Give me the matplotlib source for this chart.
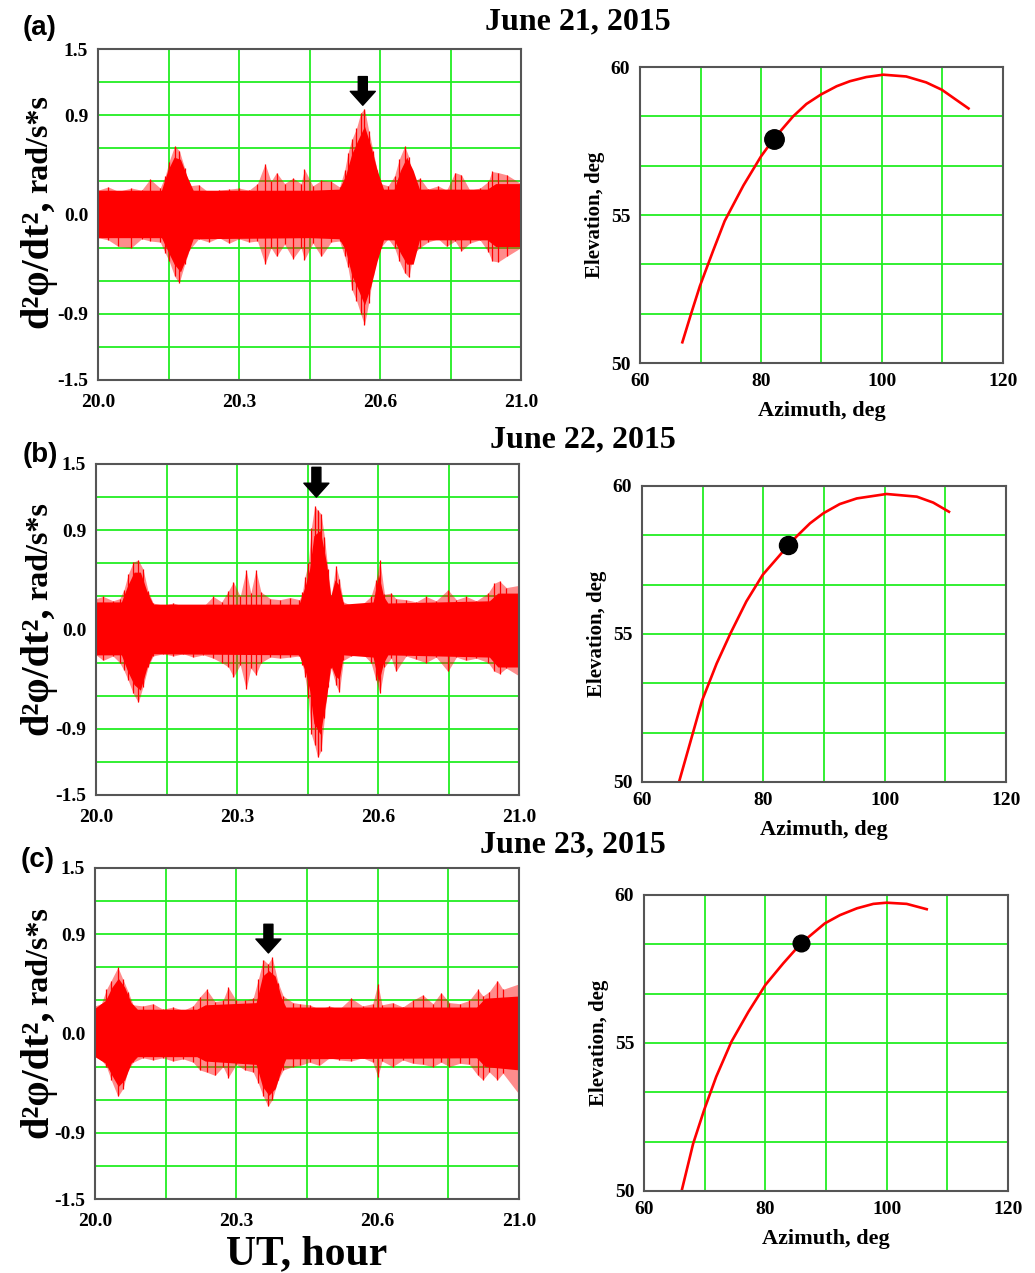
import numpy as np
import matplotlib
matplotlib.use("Agg")
import matplotlib.pyplot as plt

plt.rcParams['font.family'] = ['Liberation Serif', 'DejaVu Serif']
plt.rcParams['font.weight'] = 'bold'

# ---- left panels: spike tips (upper / lower) ----
t_a = [20.0, 20.024, 20.048, 20.079, 20.103, 20.123, 20.147, 20.159, 20.168, 20.181,
       20.192, 20.205, 20.216, 20.238, 20.262, 20.286, 20.310, 20.333, 20.357, 20.377,
       20.395, 20.409, 20.422, 20.441, 20.461, 20.480, 20.488, 20.508, 20.528, 20.551,
       20.571, 20.583, 20.591, 20.600, 20.611, 20.621, 20.630, 20.640, 20.650, 20.660,
       20.668, 20.686, 20.701, 20.712, 20.725, 20.735, 20.745, 20.761, 20.780, 20.804,
       20.824, 20.844, 20.859, 20.879, 20.903, 20.923, 20.931, 20.946, 20.966, 21.0]
up_a = [0.22, 0.25, 0.21, 0.24, 0.22, 0.32, 0.24, 0.35, 0.48, 0.62,
        0.58, 0.42, 0.26, 0.27, 0.20, 0.22, 0.23, 0.24, 0.22, 0.28,
        0.46, 0.30, 0.38, 0.28, 0.33, 0.28, 0.41, 0.26, 0.31, 0.30,
        0.25, 0.40, 0.56, 0.68, 0.78, 0.92, 0.96, 0.76, 0.58, 0.40,
        0.28, 0.26, 0.35, 0.50, 0.62, 0.52, 0.30, 0.33, 0.23, 0.26,
        0.22, 0.38, 0.36, 0.22, 0.24, 0.30, 0.39, 0.38, 0.36, 0.28]
lo_a = [-0.21, -0.23, -0.29, -0.30, -0.22, -0.24, -0.25, -0.35, -0.42, -0.56,
        -0.62, -0.45, -0.32, -0.22, -0.25, -0.21, -0.26, -0.22, -0.25, -0.24,
        -0.45, -0.30, -0.38, -0.27, -0.40, -0.30, -0.41, -0.26, -0.38, -0.25,
        -0.24, -0.38, -0.48, -0.68, -0.78, -0.90, -1.00, -0.80, -0.55, -0.40,
        -0.30, -0.22, -0.30, -0.42, -0.53, -0.57, -0.36, -0.30, -0.25, -0.22,
        -0.29, -0.24, -0.33, -0.26, -0.23, -0.34, -0.42, -0.43, -0.38, -0.30]
# dense core of the signal
core_t_a = [20.0, 20.15, 20.165, 20.18, 20.195, 20.21, 20.225, 20.5, 20.57, 20.585,
            20.60, 20.615, 20.63, 20.645, 20.66, 20.675, 20.70, 20.715, 20.73, 20.745,
            20.76, 20.92, 20.94, 21.0]
core_up_a = [0.22, 0.22, 0.40, 0.52, 0.50, 0.35, 0.22, 0.22, 0.23, 0.35,
             0.55, 0.68, 0.80, 0.62, 0.40, 0.23, 0.23, 0.40, 0.52, 0.40,
             0.23, 0.23, 0.28, 0.28]
core_lo_a = [-0.21, -0.21, -0.33, -0.45, -0.52, -0.38, -0.22, -0.21, -0.22, -0.32,
             -0.55, -0.68, -0.82, -0.65, -0.42, -0.23, -0.23, -0.35, -0.45, -0.45,
             -0.23, -0.23, -0.29, -0.29]

t_b = [20.0, 20.017, 20.040, 20.056, 20.066, 20.076, 20.088, 20.100, 20.111, 20.123,
       20.135, 20.159, 20.183, 20.206, 20.230, 20.254, 20.277, 20.297, 20.313, 20.325,
       20.341, 20.355, 20.366, 20.378, 20.390, 20.412, 20.435, 20.459, 20.481, 20.488,
       20.494, 20.502, 20.509, 20.517, 20.524, 20.532, 20.540, 20.548, 20.556, 20.567,
       20.575, 20.585, 20.603, 20.630, 20.650, 20.662, 20.671, 20.682, 20.698, 20.709,
       20.733, 20.757, 20.780, 20.804, 20.832, 20.852, 20.875, 20.899, 20.927, 20.942,
       20.954, 20.970, 21.0]
up_b = [0.28, 0.30, 0.26, 0.28, 0.36, 0.50, 0.61, 0.63, 0.55, 0.35,
        0.24, 0.22, 0.24, 0.21, 0.22, 0.21, 0.30, 0.25, 0.35, 0.43,
        0.30, 0.54, 0.33, 0.54, 0.34, 0.28, 0.27, 0.29, 0.27, 0.34,
        0.48, 0.60, 0.92, 1.12, 1.08, 1.05, 0.84, 0.55, 0.30, 0.58,
        0.46, 0.25, 0.22, 0.23, 0.30, 0.45, 0.63, 0.32, 0.33, 0.28,
        0.27, 0.25, 0.30, 0.26, 0.36, 0.27, 0.30, 0.26, 0.33, 0.42,
        0.44, 0.38, 0.40]
lo_b = [-0.23, -0.28, -0.24, -0.30, -0.37, -0.46, -0.58, -0.66, -0.52, -0.34,
        -0.24, -0.22, -0.24, -0.22, -0.25, -0.23, -0.26, -0.30, -0.34, -0.43,
        -0.32, -0.54, -0.35, -0.41, -0.30, -0.25, -0.26, -0.25, -0.24, -0.32,
        -0.43, -0.62, -0.95, -1.05, -1.16, -1.10, -0.80, -0.52, -0.35, -0.50,
        -0.57, -0.28, -0.24, -0.22, -0.30, -0.46, -0.58, -0.34, -0.26, -0.38,
        -0.24, -0.27, -0.30, -0.25, -0.38, -0.25, -0.28, -0.26, -0.30, -0.38,
        -0.40, -0.35, -0.42]
core_t_b = [20.0, 20.06, 20.075, 20.09, 20.105, 20.12, 20.135, 20.48, 20.495, 20.505,
            20.515, 20.53, 20.545, 20.555, 20.565, 20.575, 20.585, 20.655, 20.668, 20.68,
            20.69, 20.93, 20.95, 21.0]
core_up_b = [0.25, 0.25, 0.40, 0.52, 0.52, 0.35, 0.23, 0.23, 0.40, 0.55,
             0.85, 0.90, 0.60, 0.30, 0.45, 0.40, 0.23, 0.25, 0.50, 0.30,
             0.24, 0.26, 0.33, 0.33]
core_lo_b = [-0.23, -0.23, -0.38, -0.50, -0.55, -0.35, -0.22, -0.23, -0.38, -0.55,
             -0.85, -0.95, -0.62, -0.32, -0.42, -0.45, -0.23, -0.25, -0.48, -0.30,
             -0.23, -0.25, -0.34, -0.34]

t_c = [20.0, 20.015, 20.027, 20.038, 20.054, 20.066, 20.078, 20.090, 20.113, 20.137,
       20.160, 20.184, 20.208, 20.231, 20.247, 20.263, 20.283, 20.302, 20.314, 20.333,
       20.353, 20.373, 20.385, 20.397, 20.408, 20.418, 20.432, 20.444, 20.467, 20.483,
       20.506, 20.529, 20.553, 20.576, 20.604, 20.631, 20.655, 20.667, 20.677, 20.702,
       20.726, 20.749, 20.773, 20.797, 20.816, 20.836, 20.860, 20.883, 20.903, 20.915,
       20.930, 20.949, 20.962, 21.0]
up_c = [0.25, 0.27, 0.40, 0.48, 0.60, 0.49, 0.38, 0.26, 0.25, 0.27,
        0.22, 0.24, 0.21, 0.25, 0.33, 0.40, 0.29, 0.30, 0.42, 0.30,
        0.30, 0.32, 0.49, 0.67, 0.63, 0.69, 0.46, 0.34, 0.28, 0.27,
        0.26, 0.22, 0.25, 0.22, 0.32, 0.25, 0.27, 0.45, 0.26, 0.28,
        0.24, 0.30, 0.35, 0.27, 0.37, 0.28, 0.27, 0.30, 0.40, 0.34,
        0.38, 0.48, 0.40, 0.45]
lo_c = [-0.21, -0.24, -0.30, -0.42, -0.57, -0.50, -0.33, -0.26, -0.22, -0.24,
        -0.22, -0.25, -0.23, -0.26, -0.33, -0.35, -0.38, -0.30, -0.40, -0.28,
        -0.33, -0.35, -0.45, -0.57, -0.66, -0.60, -0.42, -0.33, -0.30, -0.29,
        -0.26, -0.29, -0.22, -0.24, -0.25, -0.22, -0.26, -0.39, -0.25, -0.30,
        -0.24, -0.27, -0.28, -0.30, -0.26, -0.30, -0.27, -0.28, -0.38, -0.42,
        -0.35, -0.42, -0.36, -0.55]
core_t_c = [20.0, 20.025, 20.04, 20.055, 20.07, 20.085, 20.10, 20.24, 20.26, 20.38,
            20.395, 20.41, 20.425, 20.44, 20.45, 20.90, 20.92, 21.0]
core_up_c = [0.23, 0.30, 0.42, 0.50, 0.42, 0.28, 0.22, 0.22, 0.26, 0.28,
             0.52, 0.57, 0.52, 0.32, 0.24, 0.24, 0.32, 0.34]
core_lo_c = [-0.21, -0.27, -0.38, -0.48, -0.42, -0.27, -0.21, -0.21, -0.25, -0.28,
             -0.48, -0.56, -0.50, -0.32, -0.23, -0.22, -0.30, -0.33]

# arrow markers (time, tip value, tail value)
arrow_t = [20.626, 20.521, 20.409]
arrow_tip = [0.99, 1.20, 0.73]
arrow_top = [1.25, 1.47, 0.99]

# ---- right panels: satellite track (azimuth, elevation) ----
az_a = [67.0, 68.5, 69.9, 72.1, 74.0, 77.1, 80.0, 82.1, 85.3, 87.5,
        89.9, 92.5, 94.7, 97.4, 100.2, 104.0, 107.3, 109.9, 112.2, 114.3]
el_a = [50.7, 51.7, 52.6, 53.8, 54.8, 56.0, 56.98, 57.57, 58.33, 58.75,
        59.07, 59.35, 59.52, 59.66, 59.74, 59.68, 59.48, 59.23, 58.9, 58.6]
az_b = [66.1, 67.9, 69.9, 72.3, 74.6, 77.2, 79.9, 84.1, 85.5, 87.7,
        89.9, 92.6, 95.4, 100.3, 105.3, 108.0, 110.6]
el_b = [50.0, 51.3, 52.75, 54.0, 55.03, 56.1, 57.0, 57.99, 58.3, 58.74,
        59.08, 59.39, 59.58, 59.73, 59.64, 59.44, 59.13]
az_c = [66.2, 68.1, 69.9, 71.9, 74.4, 77.2, 80.0, 82.95, 85.9, 89.8,
        92.3, 95.1, 97.8, 100.0, 103.3, 106.6]
el_c = [50.0, 51.6, 52.73, 53.86, 55.04, 56.05, 56.96, 57.69, 58.37, 59.04,
        59.32, 59.55, 59.70, 59.74, 59.70, 59.52]
dot_az = [82.1, 84.1, 85.9]
dot_el = [57.57, 57.99, 58.37]
dot_size = [14, 13, 12]

titles = ['June 21, 2015', 'June 22, 2015', 'June 23, 2015']
panel_tags = ['(a)', '(b)', '(c)']

yt_left = [-1.5, -1.2, -0.9, -0.6, -0.3, 0.0, 0.3, 0.6, 0.9, 1.2, 1.5]
yl_left = ['-1.5', '', '-0.9', '', '', '0.0', '', '', '0.9', '', '1.5']
xt_left = [20 + k / 6 for k in range(7)]
xl_left = ['20.0', '', '20.3', '', '20.6', '', '21.0']
xt_right = [60, 70, 80, 90, 100, 110, 120]
xl_right = ['60', '', '80', '', '100', '', '120']
yt_right = [50 + k * 10 / 6 for k in range(7)]
yl_right = ['50', '', '', '55', '', '', '60']

sig = [(t_a, up_a, lo_a), (t_b, up_b, lo_b), (t_c, up_c, lo_c)]
core = [(core_t_a, core_up_a, core_lo_a), (core_t_b, core_up_b, core_lo_b),
        (core_t_c, core_up_c, core_lo_c)]
trk = [(az_a, el_a), (az_b, el_b), (az_c, el_c)]

W, H = 1035, 1273
fig = plt.figure(figsize=(W / 100, H / 100), dpi=100)

def fr(x0, y0, x1, y1):
    return [x0 / W, 1 - y1 / H, (x1 - x0) / W, (y1 - y0) / H]

left_boxes = [fr(98, 49, 521, 380), fr(96, 464, 519, 795), fr(95, 868, 519, 1199)]
right_boxes = [fr(640, 67, 1003, 363), fr(642, 486, 1006, 782), fr(644, 895, 1008, 1191)]
title_pos = [(578, 22), (583, 440), (573, 845)]
tag_pos = [(40, 28), (40, 455), (38, 860)]
ylab1_y = [328, 735, 1138]
ylab2_y = [193, 600, 1005]

grid_col = '#22ee22'
spine_col = '#555555'

def style(ax):
    ax.grid(True, color=grid_col, lw=1.3)
    ax.set_axisbelow(True)
    for s in ax.spines.values():
        s.set_color(spine_col)
        s.set_linewidth(1.5)
    ax.tick_params(length=0, labelsize=14, pad=7)

for i in range(3):
    t, up, lo = sig[i]
    ct, cu, cl = core[i]
    ax = fig.add_axes(left_boxes[i])
    ax.fill_between(t, lo, up, color='#ff0000', alpha=0.45, lw=0)
    ax.fill_between(ct, cl, cu, color='#ff0000', lw=0)
    ax.vlines(t, lo, up, color='#ff0000', lw=0.9)
    ax.annotate('', xy=(arrow_t[i], arrow_tip[i]), xytext=(arrow_t[i], arrow_top[i]),
                arrowprops=dict(arrowstyle='simple,head_length=1.0,head_width=1.8,tail_width=0.65',
                                color='black', shrinkA=0, shrinkB=0))
    ax.set_xlim(20, 21)
    ax.set_ylim(-1.5, 1.5)
    ax.set_xticks(xt_left)
    ax.set_xticklabels(xl_left)
    ax.set_yticks(yt_left)
    ax.set_yticklabels(yl_left)
    style(ax)
    ax.tick_params(axis='x', pad=10)

    az, el = trk[i]
    ax2 = fig.add_axes(right_boxes[i])
    ax2.plot(az, el, color='#ff0000', lw=1.9)
    ax2.plot(dot_az[i], dot_el[i], 'o', color='black', ms=dot_size[i])
    ax2.set_xlim(60, 120)
    ax2.set_ylim(50, 60)
    ax2.set_xticks(xt_right)
    ax2.set_xticklabels(xl_right)
    ax2.set_yticks(yt_right)
    ax2.set_yticklabels(yl_right)
    style(ax2)
    ax2.set_xlabel('Azimuth, deg', fontsize=16, fontweight='bold', labelpad=8)
    ax2.set_ylabel('Elevation, deg', fontsize=15, fontweight='bold', labelpad=4)

    fig.text(title_pos[i][0] / W, 1 - title_pos[i][1] / H, titles[i], fontsize=23,
             fontweight='bold', ha='center', va='center')
    fig.text(tag_pos[i][0] / W, 1 - tag_pos[i][1] / H, panel_tags[i], fontsize=20,
             fontweight='bold', ha='center', va='center',
             family=['Liberation Sans', 'DejaVu Sans'])
    fig.text(47 / W, 1 - ylab1_y[i] / H, 'd\u00b2\u03c6/dt\u00b2,', fontsize=29,
             fontweight='bold', rotation=90, rotation_mode='anchor',
             ha='left', va='baseline')
    fig.text(47 / W, 1 - ylab2_y[i] / H, 'rad/s*s', fontsize=23,
             fontweight='bold', rotation=90, rotation_mode='anchor',
             ha='left', va='baseline')

fig.text(307 / W, 1 - 1254 / H, 'UT, hour', fontsize=30, fontweight='bold',
         ha='center', va='center')

fig.savefig('out.png', dpi=100)
